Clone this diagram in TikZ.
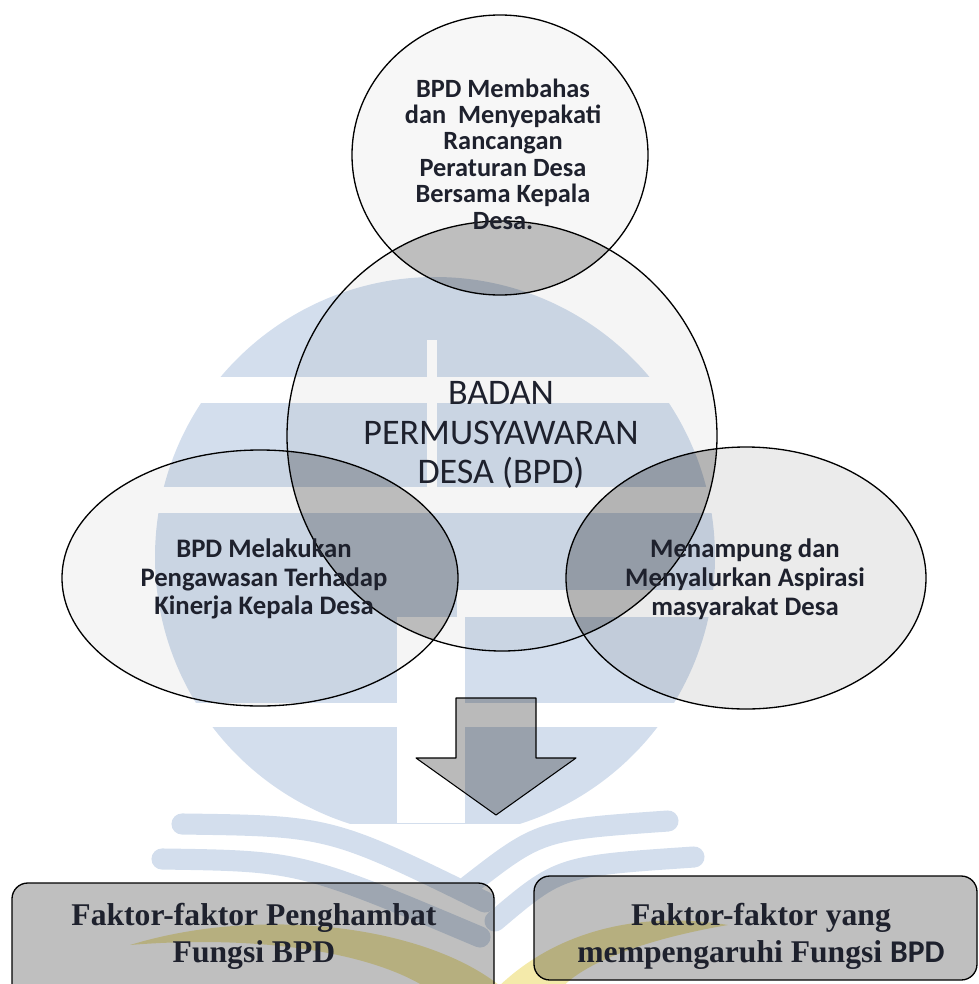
\documentclass[tikz,border=0pt]{standalone}
\usepackage{fontspec}
\setmainfont{Liberation Serif}
\newfontfamily\carlito{Carlito}
\usetikzlibrary{arrows}
\definecolor{wmblue}{RGB}{211,222,237}
\definecolor{wmyellow}{RGB}{244,234,170}
\definecolor{ink}{RGB}{30,33,45}
\tikzset{
  outline/.style={line width=0.75pt,color=black},
  speckle/.style={fill=black,fill opacity=0.04},
  lens/.style={fill=black,fill opacity=0.2},
  roundtext/.style={font=\carlito\bfseries\fontsize{15}{15}\selectfont,align=center,text=ink},
  sidetext/.style={font=\carlito\bfseries\fontsize{15.2}{16.4}\selectfont,align=center,text=ink},
  boxtext/.style={font=\bfseries\fontsize{18}{21}\selectfont,align=center,text=ink},
  page/.style={line width=12pt,color=wmblue,line cap=round},
}

\begin{document}
\begin{tikzpicture}[x=0.02cm,y=-0.02cm]
\clip (0,0) rectangle (979,984);
% logo behind the page
\begin{scope}
\clip (0,270) rectangle (979,823);
\fill [wmblue] (435,557) circle [radius=280];
\end{scope}
\fill [white] (0,377) rectangle (979,403);
\fill [white] (0,487) rectangle (979,513);
\fill [white] (457,590) rectangle (979,617);
\fill [white] (0,703) rectangle (979,727);
\fill [white] (427,340) rectangle (437,487);
\fill [white] (397,617) rectangle (465,823);
\draw [page] (182,824) .. controls (330,826) .. (485,902);
\draw [page] (162,859) .. controls (300,861) .. (480,937);
\draw [page] (468,886) .. controls (540,830) .. (668,821);
\draw [page] (495,921) .. controls (560,866) .. (694,857);
\fill [wmyellow] (130,945) .. controls (260,905) and (430,925) .. (505,990) -- (430,990) .. controls (370,950) and (250,935) .. (130,945) -- cycle;
\fill [wmyellow] (495,990) .. controls (560,925) and (650,912) .. (728,925) .. controls (640,940) and (580,965) .. (560,990) -- cycle;
% circles and their overlaps
\fill [speckle] (502,436) circle [radius=215];
\fill [speckle,fill opacity=0.03] (500,155) ellipse [x radius=148, y radius=140];
\fill [speckle] (260,578) ellipse [x radius=198, y radius=128];
\fill [speckle,fill opacity=0.08] (746,578) ellipse [x radius=180, y radius=131];
\begin{scope}
\clip (502,436) circle [radius=215];
\fill [lens] (500,155) ellipse [x radius=148, y radius=140];
\fill [lens] (260,578) ellipse [x radius=198, y radius=128];
\fill [lens] (746,578) ellipse [x radius=180, y radius=131];
\end{scope}
\draw [outline] (500,155) ellipse [x radius=148, y radius=140];
\draw [outline] (502,436) circle [radius=215];
\draw [outline] (260,578) ellipse [x radius=198, y radius=128];
\draw [outline] (746,578) ellipse [x radius=180, y radius=131];
% block arrow
\draw [outline,line width=0.6pt,fill=black,fill opacity=0.27,line join=round] (456,698) -- (536,698) -- (536,758) -- (576,758) -- (496,815) -- (416,758) -- (456,758) -- cycle;
% bottom boxes
\draw [outline,fill=black,fill opacity=0.25,rounded corners=9pt] (12,883) rectangle (494,1000);
\draw [outline,fill=black,fill opacity=0.25,rounded corners=9pt] (534,876) rectangle (977,980);
\node [roundtext] (rancangan) at (503,154) {BPD Membahas\\dan\ \ Menyepakati\\Rancangan\\Peraturan Desa\\Bersama Kepala\\Desa.};
\node [font=\carlito\fontsize{20.5}{22.7}\selectfont,align=center,text=ink] (bpd) at (501,435) {BADAN\\PERMUSYAWARAN\\DESA (BPD)};
\node [sidetext] (pengawasan) at (264,579) {BPD Melakukan\\Pengawasan Terhadap\\Kinerja Kepala Desa};
\node [sidetext] (aspirasi) at (745,579) {Menampung dan\\Menyalurkan Aspirasi\\masyarakat Desa};
\node [boxtext] (penghambat) at (254,936) {Faktor-faktor Penghambat\\Fungsi BPD};
\node [boxtext] (pengaruh) at (761,936) {Faktor-faktor yang\\mempengaruhi Fungsi {\carlito\bfseries BPD}};
\end{tikzpicture}
\end{document}
